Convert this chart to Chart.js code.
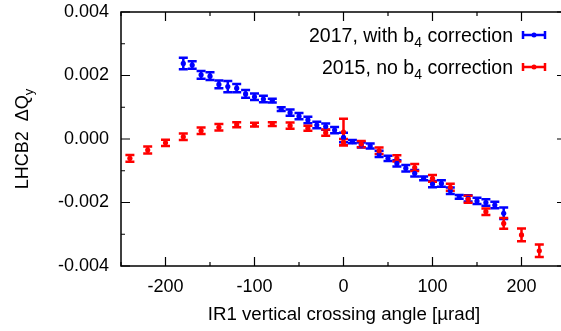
<!DOCTYPE html>
<html>
<head>
<meta charset="utf-8">
<script src="https://cdn.jsdelivr.net/npm/chart.js@4.4.0/dist/chart.umd.min.js"></script>
<style>
  html, body { margin: 0; padding: 0; background: #fff; overflow: hidden; }
  canvas { display: block; }
</style>
</head>
<body>
<canvas id="c" width="570" height="331"></canvas>
<script>
// 2017, with b4 correction (blue)
const blueX = [-180, -170, -160, -150, -140, -130, -120, -110, -100, -90, -80, -70, -60, -50, -40, -30, -20, -10,
  0, 10, 20, 30, 40, 50, 60, 70, 80, 90, 100, 110, 120, 130, 140, 150, 160, 170, 180];
const blueY = [0.00238, 0.00233, 0.00202, 0.00198, 0.00172, 0.00165, 0.0016, 0.00142, 0.00133, 0.00126, 0.00121,
  0.00094, 0.00083, 0.00072, 0.0006, 0.00044, 0.00039, 0.00028,
  0.00005, -0.00008, -0.00019, -0.00022, -0.00047, -0.00061, -0.00077, -0.00092, -0.00108, -0.00124, -0.00142,
  -0.0014, -0.00163, -0.00182, -0.00187, -0.00195, -0.002, -0.00208, -0.00234];
const blueErr = [0.00018, 0.00012, 0.00012, 0.00012, 0.00012, 0.00018, 0.00013, 0.00012, 0.0001, 0.0001, 0.00006,
  0.00006, 0.0001, 0.0001, 0.0001, 0.0001, 0.0001, 0.0001,
  0.00015, 0.00005, 0.00008, 0.00008, 0.0001, 0.00008, 0.0001, 0.0001, 0.0001, 0.00006, 0.0001,
  0.0001, 0.0001, 0.00006, 0.0001, 0.0001, 0.0001, 0.0001, 0.00018];

// 2015, no b4 correction (red)
const redX = [-240, -220, -200, -180, -160, -140, -120, -100, -80, -60, -40, -20, 0, 0,
  20, 40, 60, 80, 100, 120, 140, 160, 180, 200, 220];
const redY = [-0.00061, -0.00035, -0.00012, 0.00007, 0.00026, 0.00037, 0.00045, 0.00045, 0.00047, 0.00042, 0.00034,
  0.0002, 0.00022, -0.0001, -0.00016, -0.00037, -0.00061, -0.0009, -0.00124, -0.00152, -0.0019, -0.00229,
  -0.00266, -0.00302, -0.00352];
const redErr = [0.00011, 0.00011, 0.0001, 0.0001, 0.0001, 0.0001, 0.00008, 0.00006, 0.00006, 0.0001, 0.00008,
  0.0001, 0.00042, 0.0001, 0.0001, 0.0001, 0.0001, 0.00011, 0.00011, 0.00011, 0.00011, 0.0001,
  0.00017, 0.0002, 0.0002];

const BLUE = '#0000ff';
const RED = '#ff0000';
const FONT = '"Liberation Sans", Arial, sans-serif';

function pts(xs, ys, es) {
  return xs.map((x, i) => ({ x: x, y: ys[i], e: es[i] }));
}

// vertical error bars with caps, drawn through the scales
const errorBars = {
  id: 'errorBars',
  beforeDatasetsDraw(chart) {
    const ctx = chart.ctx;
    const xs = chart.scales.x, ys = chart.scales.y;
    // blue first, red on top
    [0, 1].forEach(di => {
      const ds = chart.data.datasets[di];
      ctx.save();
      ctx.strokeStyle = ds.borderColor;
      ctx.lineWidth = 2.5;
      ds.data.forEach(p => {
        const px = xs.getPixelForValue(p.x);
        const top = ys.getPixelForValue(p.y + p.e);
        const bot = ys.getPixelForValue(p.y - p.e);
        ctx.beginPath();
        ctx.moveTo(px, top); ctx.lineTo(px, bot);
        ctx.moveTo(px - 4.5, top); ctx.lineTo(px + 4.5, top);
        ctx.moveTo(px - 4.5, bot); ctx.lineTo(px + 4.5, bot);
        ctx.stroke();
      });
      ctx.restore();
    });
  }
};

// frame, inward ticks, axis titles and key
const frame = {
  id: 'frame',
  afterDraw(chart) {
    const ctx = chart.ctx;
    const a = chart.chartArea;
    const xs = chart.scales.x, ys = chart.scales.y;
    ctx.save();
    ctx.strokeStyle = '#000';
    ctx.lineWidth = 1.5;
    ctx.strokeRect(a.left, a.top, a.right - a.left, a.bottom - a.top);
    ctx.lineWidth = 1.2;
    ctx.beginPath();
    xs.ticks.forEach(t => {
      const px = xs.getPixelForValue(t.value);
      const len = (Math.round(t.value) % 100 === 0) ? 9 : 4;
      ctx.moveTo(px, a.bottom); ctx.lineTo(px, a.bottom - len);
      ctx.moveTo(px, a.top); ctx.lineTo(px, a.top + len);
    });
    ys.ticks.forEach(t => {
      const py = ys.getPixelForValue(t.value);
      const len = (Math.round(t.value * 1000) % 2 === 0) ? 9 : 4;
      ctx.moveTo(a.left, py); ctx.lineTo(a.left + len, py);
      ctx.moveTo(a.right, py); ctx.lineTo(a.right - len, py);
    });
    ctx.stroke();

    ctx.fillStyle = '#000';
    // x title
    ctx.font = '18.7px ' + FONT;
    ctx.textAlign = 'center';
    ctx.textBaseline = 'alphabetic';
    ctx.fillText('IR1 vertical crossing angle [\u00b5rad]', 344, 320);

    // y title with subscript
    ctx.save();
    ctx.translate(28, 139);
    ctx.rotate(-Math.PI / 2);
    const main = 'LHCB2  \u0394Q';
    ctx.font = '18px ' + FONT;
    const w1 = ctx.measureText(main).width;
    ctx.font = '13px ' + FONT;
    const w2 = ctx.measureText('y').width;
    const x0 = -(w1 + w2) / 2;
    ctx.textAlign = 'left';
    ctx.font = '18px ' + FONT;
    ctx.fillText(main, x0, 0);
    ctx.font = '13px ' + FONT;
    ctx.fillText('y', x0 + w1, 5);
    ctx.restore();

    // key
    const entries = [
      { pre: '2017, with b', post: ' correction', color: BLUE, y: 41.5 },
      { pre: '2015, no b', post: ' correction', color: RED, y: 73.5 }
    ];
    ctx.textAlign = 'left';
    entries.forEach(en => {
      ctx.font = '19.5px ' + FONT;
      const wa = ctx.measureText(en.pre).width;
      const wc = ctx.measureText(en.post).width;
      ctx.font = '14px ' + FONT;
      const wb = ctx.measureText('4').width;
      const right = 513;
      const start = right - wa - wb - wc;
      ctx.fillStyle = '#000';
      ctx.font = '19.5px ' + FONT;
      ctx.fillText(en.pre, start, en.y);
      ctx.font = '14px ' + FONT;
      ctx.fillText('4', start + wa, en.y + 5);
      ctx.font = '19.5px ' + FONT;
      ctx.fillText(en.post, start + wa + wb, en.y);
      // sample
      const sy = en.y - 6.5;
      ctx.strokeStyle = en.color;
      ctx.fillStyle = en.color;
      ctx.lineWidth = 2.5;
      ctx.beginPath();
      ctx.moveTo(523, sy); ctx.lineTo(545, sy);
      ctx.moveTo(523, sy - 4); ctx.lineTo(523, sy + 4);
      ctx.moveTo(545, sy - 4); ctx.lineTo(545, sy + 4);
      ctx.stroke();
      ctx.beginPath();
      ctx.arc(534, sy, 2.5, 0, Math.PI * 2);
      ctx.fill();
    });
    ctx.restore();
  }
};

new Chart(document.getElementById('c'), {
  type: 'scatter',
  data: {
    datasets: [
      {
        label: '2017, with b4 correction',
        data: pts(blueX, blueY, blueErr),
        borderColor: BLUE,
        backgroundColor: BLUE,
        pointRadius: 2.6,
        pointBorderWidth: 0,
        order: 2
      },
      {
        label: '2015, no b4 correction',
        data: pts(redX, redY, redErr),
        borderColor: RED,
        backgroundColor: RED,
        pointRadius: 2.6,
        pointBorderWidth: 0,
        order: 1
      }
    ]
  },
  options: {
    responsive: false,
    animation: false,
    layout: { padding: { top: 12, right: 4, left: 0, bottom: 0 } },
    plugins: { legend: { display: false }, tooltip: { enabled: false } },
    scales: {
      x: {
        type: 'linear',
        min: -250,
        max: 250,
        grid: { display: false, drawTicks: false },
        border: { display: false },
        afterFit: s => { s.height = 65; s.paddingLeft = 0; s.paddingRight = 0; },
        ticks: {
          stepSize: 50,
          padding: 10,
          color: '#000',
          font: { family: FONT, size: 18 },
          maxRotation: 0,
          autoSkip: false,
          callback: v => (Math.round(v) % 100 === 0 ? String(Math.round(v)) : '')
        }
      },
      y: {
        type: 'linear',
        min: -0.004,
        max: 0.004,
        grid: { display: false, drawTicks: false },
        border: { display: false },
        afterFit: s => { s.width = 121; s.paddingTop = 0; s.paddingBottom = 0; },
        ticks: {
          stepSize: 0.001,
          padding: 12,
          color: '#000',
          font: { family: FONT, size: 18 },
          autoSkip: false,
          callback: v => {
            const r = Math.round(v * 1000);
            if (r % 2 !== 0) return '';
            return (r / 1000).toFixed(3);
          }
        }
      }
    }
  },
  plugins: [errorBars, frame]
});
</script>
</body>
</html>
